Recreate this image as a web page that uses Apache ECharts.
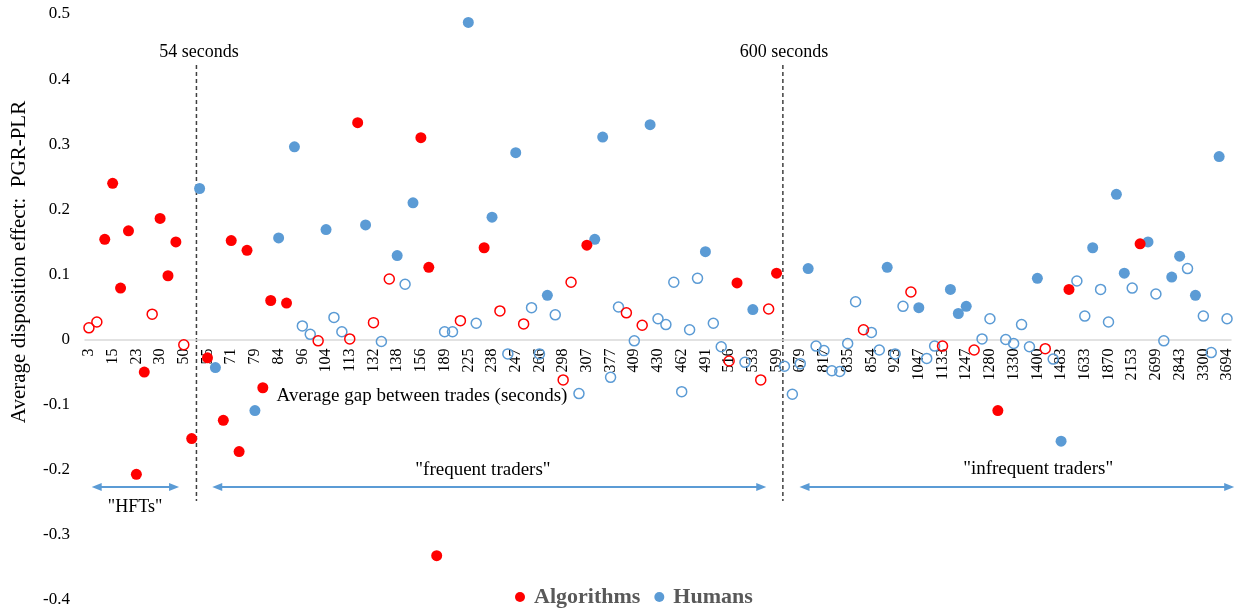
<!DOCTYPE html>
<html>
<head>
<meta charset="utf-8">
<script src="https://cdn.jsdelivr.net/npm/echarts@6/dist/echarts.min.js"></script>
<style>
html,body{margin:0;padding:0;background:#fff;}
#chart{width:1239px;height:612px;}
</style>
</head>
<body>
<div id="chart"></div>
<script>
// Tick labels: one every third category (average gap between trades, seconds)
const tickLabels = ['3','15','23','30','50','55','71','79','84','96','104','113','132','138','156','189','225','238','247','266','298','307','377','409','430','462','491','516','533','599','679','817','835','854','923','1047','1133','1247','1280','1330','1400','1483','1633','1870','2153','2699','2843','3300','3694'];

// Average disposition effect (PGR-PLR) per trader group, in gap order
const values = [
  0.018, 0.027, 0.154, 0.240, 0.079, 0.167, -0.207, -0.050, 0.039, 0.186,
  0.098, 0.150, -0.008, -0.152, 0.232, -0.028, -0.043, -0.124, 0.152, -0.172,
  0.137, -0.109, -0.074, 0.060, 0.156, 0.056, 0.296, 0.021, 0.008, -0.002,
  0.169, 0.034, 0.012, 0.001, 0.333, 0.176, 0.026, -0.003, 0.093, 0.129,
  0.085, 0.210, 0.310, 0.111, -0.332, 0.012, 0.012, 0.029, 0.487, 0.025,
  0.141, 0.188, 0.044, -0.022, 0.287, 0.024, 0.049, -0.022, 0.068, 0.038,
  -0.062, 0.088, -0.083, 0.145, 0.154, 0.311, -0.058, 0.050, 0.041, -0.002,
  0.022, 0.330, 0.032, 0.023, 0.088, -0.080, 0.015, 0.094, 0.135, 0.025,
  -0.011, -0.033, 0.087, -0.035, 0.046, -0.062, 0.047, 0.102, -0.041, -0.084,
  -0.037, 0.109, -0.010, -0.017, -0.048, -0.049, -0.006, 0.058, 0.015, 0.011,
  -0.016, 0.111, -0.022, 0.051, 0.073, 0.049, -0.029, -0.010, -0.010, 0.077,
  0.040, 0.051, -0.016, 0.001, 0.032, -0.109, 0.000, -0.006, 0.023, -0.011,
  0.094, -0.014, -0.030, -0.156, 0.077, 0.090, 0.036, 0.141, 0.077, 0.027,
  0.223, 0.102, 0.079, 0.147, 0.150, 0.070, -0.002, 0.096, 0.128, 0.109,
  0.068, 0.036, -0.020, 0.281, 0.032
];

// A = algorithm (significant, filled), a = algorithm (hollow), H = human (filled), h = human (hollow)
const kinds = [
  'a','a','A','A','A','A','A','A','a','A',
  'A','A','a','A','H','A','H','A','A','A',
  'A','H','A','A','H','A','H','h','h','a',
  'H','h','h','a','A','H','a','h','a','H',
  'h','H','A','A','A','h','h','a','H','h',
  'A','H','a','h','H','a','h','h','H','h',
  'a','a','h','A','H','H','h','h','a','h',
  'a','H','h','h','h','h','h','h','H','h',
  'h','a','A','h','H','a','a','A','h','h',
  'h','H','h','h','h','h','h','h','a','h',
  'h','H','h','h','a','H','h','h','a','H',
  'H','H','a','h','h','A','h','h','h','h',
  'H','a','h','H','A','h','h','H','h','h',
  'H','H','h','A','H','h','h','H','H','h',
  'H','h','h','H','h'
];

const RED = '#FF0000';
const BLUE = '#5B9BD5';
const FONT = '"Liberation Serif", "Times New Roman", serif';

const categories = values.map((_, i) => (i % 3 === 0 ? tickLabels[i / 3] : ''));

function pointsOf(kind) {
  const out = [];
  values.forEach((v, i) => { if (kinds[i] === kind) out.push([i, v]); });
  return out;
}
function filledSeries(name, color, kind) {
  return { name, type: 'scatter', data: pointsOf(kind), symbol: 'circle', symbolSize: 11,
           itemStyle: { color: color, opacity: 1 }, z: 4, silent: true };
}
function hollowSeries(name, color, kind) {
  return { name, type: 'scatter', data: pointsOf(kind), symbol: 'circle', symbolSize: 10,
           itemStyle: { color: 'rgba(255,255,255,0)', borderColor: color, borderWidth: 1.5, opacity: 1 }, z: 3, silent: true };
}

const chart = echarts.init(document.getElementById('chart'), null, { renderer: 'canvas' });
chart.setOption({
  animation: false,
  backgroundColor: '#fff',
  grid: { left: 85, right: 8, top: 14, bottom: 12, containLabel: false, outerBoundsMode: 'none' },
  xAxis: {
    type: 'category',
    data: categories,
    boundaryGap: true,
    position: 'bottom',
    axisLine: { show: true, onZero: false, lineStyle: { color: '#D9D9D9', width: 1.5 } },
    axisTick: { show: false },
    splitLine: { show: false },
    axisLabel: { interval: 0, rotate: 90, margin: 9, color: '#000', fontFamily: FONT, fontSize: 16 }
  },
  yAxis: {
    type: 'value',
    min: -0.4, max: 0.5, interval: 0.1,
    axisLine: { show: false },
    axisTick: { show: false },
    splitLine: { show: false },
    axisLabel: { margin: 15, color: '#000', fontFamily: FONT, fontSize: 17 }
  },
  legend: {
    data: ['Algorithms', 'Humans'],
    left: 510, top: 581,
    icon: 'circle', itemWidth: 10, itemHeight: 10, itemGap: 14,
    selectedMode: false,
    textStyle: { fontFamily: FONT, fontSize: 22, fontWeight: 'bold', color: '#595959', padding: [0, 0, 0, 4] }
  },
  series: [
    hollowSeries('Humans (n.s.)', BLUE, 'h'),
    filledSeries('Humans', BLUE, 'H'),
    hollowSeries('Algorithms (n.s.)', RED, 'a'),
    filledSeries('Algorithms', RED, 'A')
  ]
});

// Move the category axis (line + labels) up to the y = 0 position
const Y = v => chart.convertToPixel({ yAxisIndex: 0 }, v);
for (let k = 0; k < 3; k++) {
  const yMinPx = Y(-0.4);
  const yZeroPx = Y(0);
  chart.setOption({ xAxis: { offset: -(yMinPx - yZeroPx) } });
}

// Annotations positioned through the axes (fractional category index, value)
const c0 = chart.convertToPixel({ xAxisIndex: 0 }, 0);
const c1 = chart.convertToPixel({ xAxisIndex: 0 }, 1);
const step = c1 - c0;
const X = f => c0 + f * step;

function text(t, x, y, size, extra) {
  return Object.assign({
    type: 'text', x: x, y: y, silent: true,
    style: { text: t, font: size + 'px ' + FONT, fill: '#000',
             align: 'center', verticalAlign: 'middle', textAlign: 'center', textVerticalAlign: 'middle' }
  }, extra || {});
}
function dashed(x, y1, y2) {
  return { type: 'line', silent: true, shape: { x1: x, y1: y1, x2: x, y2: y2 },
           style: { stroke: '#404040', lineWidth: 1.5, lineDash: [4, 3] } };
}
function arrow(xa, xb, y) {
  const L = 10, W = 4;
  return [
    { type: 'line', silent: true, shape: { x1: xa + L - 2, y1: y, x2: xb - L + 2, y2: y },
      style: { stroke: BLUE, lineWidth: 2 } },
    { type: 'polygon', silent: true, shape: { points: [[xa, y], [xa + L, y - W], [xa + L, y + W]] },
      style: { fill: BLUE } },
    { type: 'polygon', silent: true, shape: { points: [[xb, y], [xb - L, y - W], [xb - L, y + W]] },
      style: { fill: BLUE } }
  ];
}

const arrowY = Y(-0.2265);
const graphics = [
  dashed(X(13.6), Y(0.4215), Y(-0.248)),
  dashed(X(87.8), Y(0.4215), Y(-0.248)),
  text('54 seconds', X(13.93), Y(0.4417), 18),
  text('600 seconds', X(87.95), Y(0.4417), 18),
  ...arrow(X(0.35), X(11.4), arrowY),
  ...arrow(X(15.6), X(85.7), arrowY),
  ...arrow(X(89.9), X(144.9), arrowY),
  text('"HFTs"', X(5.83), Y(-0.257), 18),
  text('"frequent traders"', X(49.85), Y(-0.2), 19),
  text('"infrequent traders"', X(120.1), Y(-0.199), 19),
  text('Average gap between trades (seconds)', X(42.14), Y(-0.0868), 19),
  text('Average disposition effect:  PGR-PLR', 19, 262, 21, { rotation: Math.PI / 2 })
];
chart.setOption({ graphic: { elements: graphics } });
</script>
</body>
</html>
